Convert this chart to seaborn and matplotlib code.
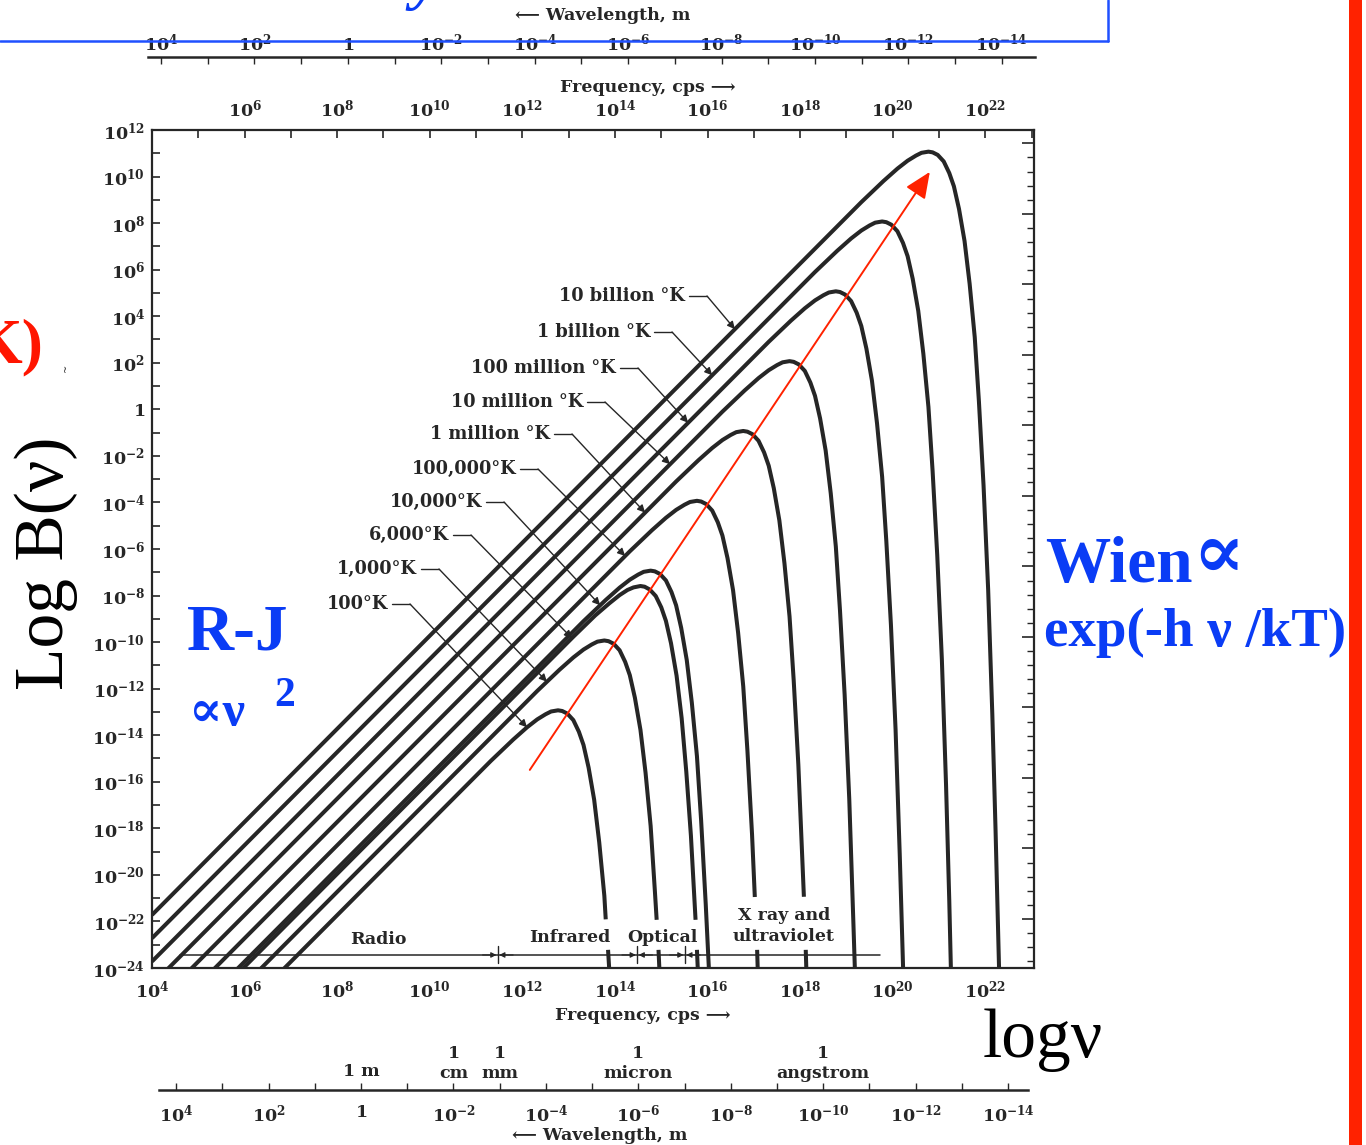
import numpy as np
import pandas as pd
import matplotlib
matplotlib.use("Agg")
import matplotlib.pyplot as plt
import matplotlib.transforms as mtrans
import seaborn as sns
from matplotlib.ticker import FixedLocator, FixedFormatter, MultipleLocator, NullLocator
from matplotlib.lines import Line2D
from matplotlib.patches import Rectangle

# ---------------- data (log10 frequency [cps], log10 B(nu)) -------------
lognu_T100 = [4.00, 11.32, 11.80, 12.10, 12.32, 12.50, 12.62, 12.77, 12.86, 12.97, 13.10, 13.22, 13.32, 13.43, 13.55, 13.66, 13.77, 13.80]
logB_T100 = [-29.72, -15.10, -14.19, -13.66, -13.32, -13.10, -12.98, -12.93, -12.96, -13.07, -13.35, -13.85, -14.42, -15.39, -16.77, -18.61, -20.90, -21.91]

lognu_T1000 = [4.00, 12.32, 12.80, 13.10, 13.32, 13.50, 13.62, 13.77, 13.86, 13.97, 14.10, 14.22, 14.32, 14.43, 14.55, 14.66, 14.77, 14.86, 14.90]
logB_T1000 = [-28.72, -12.10, -11.19, -10.66, -10.32, -10.10, -9.98, -9.93, -9.96, -10.07, -10.35, -10.85, -11.42, -12.39, -13.77, -15.61, -17.90, -20.65, -21.93]

lognu_T6000 = [4.00, 13.10, 13.57, 13.88, 14.10, 14.27, 14.40, 14.55, 14.64, 14.75, 14.88, 15.00, 15.10, 15.21, 15.33, 15.44, 15.54, 15.64, 15.74]
logB_T6000 = [-27.94, -9.77, -8.86, -8.33, -7.98, -7.76, -7.65, -7.59, -7.62, -7.74, -8.02, -8.51, -9.09, -10.05, -11.44, -13.27, -15.57, -18.32, -21.93]

lognu_T1e4 = [4.00, 13.32, 13.80, 14.10, 14.32, 14.50, 14.62, 14.77, 14.86, 14.97, 15.10, 15.22, 15.32, 15.43, 15.55, 15.66, 15.77, 15.86, 15.96, 16.04]
logB_T1e4 = [-27.72, -9.10, -8.19, -7.66, -7.32, -7.10, -6.98, -6.93, -6.96, -7.07, -7.35, -7.85, -8.42, -9.39, -10.77, -12.61, -14.90, -17.65, -21.26, -24.52]

lognu_T1e5 = [4.00, 14.32, 14.80, 15.10, 15.32, 15.50, 15.62, 15.77, 15.86, 15.97, 16.10, 16.22, 16.32, 16.43, 16.55, 16.66, 16.77, 16.86, 16.96, 17.02]
logB_T1e5 = [-26.72, -6.10, -5.19, -4.66, -4.32, -4.10, -3.98, -3.93, -3.96, -4.07, -4.35, -4.85, -5.42, -6.39, -7.77, -9.61, -11.90, -14.65, -18.26, -20.95]

lognu_T1e6 = [4.00, 15.32, 15.80, 16.10, 16.32, 16.50, 16.62, 16.77, 16.86, 16.97, 17.10, 17.22, 17.32, 17.43, 17.55, 17.66, 17.77, 17.86, 17.96, 18.08]
logB_T1e6 = [-25.72, -3.10, -2.19, -1.66, -1.32, -1.10, -0.98, -0.93, -0.96, -1.07, -1.35, -1.85, -2.42, -3.39, -4.77, -6.61, -8.90, -11.65, -15.26, -20.94]

lognu_T1e7 = [4.00, 16.32, 16.80, 17.10, 17.32, 17.50, 17.62, 17.77, 17.86, 17.97, 18.10, 18.22, 18.32, 18.43, 18.55, 18.66, 18.77, 18.86, 18.96, 19.06, 19.15, 19.19]
logB_T1e7 = [-24.72, -0.10, 0.81, 1.34, 1.68, 1.90, 2.02, 2.07, 2.04, 1.93, 1.65, 1.15, 0.58, -0.39, -1.77, -3.61, -5.90, -8.65, -12.26, -16.75, -22.12, -24.60]

lognu_T1e8 = [4.00, 17.32, 17.80, 18.10, 18.32, 18.50, 18.62, 18.77, 18.86, 18.97, 19.10, 19.22, 19.32, 19.43, 19.55, 19.66, 19.77, 19.86, 19.96, 20.06, 20.15, 20.23]
logB_T1e8 = [-23.72, 2.90, 3.81, 4.34, 4.68, 4.90, 5.02, 5.07, 5.04, 4.93, 4.65, 4.15, 3.58, 2.61, 1.23, -0.61, -2.90, -5.65, -9.26, -13.75, -19.12, -24.50]

lognu_T1e9 = [4.00, 18.32, 18.80, 19.10, 19.32, 19.50, 19.62, 19.77, 19.86, 19.97, 20.10, 20.22, 20.32, 20.43, 20.55, 20.66, 20.77, 20.86, 20.96, 21.06, 21.15, 21.22, 21.26]
logB_T1e9 = [-22.72, 5.90, 6.81, 7.34, 7.68, 7.90, 8.02, 8.07, 8.04, 7.93, 7.65, 7.15, 6.58, 5.61, 4.23, 2.39, 0.10, -2.65, -6.26, -10.75, -16.12, -21.11, -24.46]

lognu_T1e10 = [4.00, 19.32, 19.80, 20.10, 20.32, 20.50, 20.62, 20.77, 20.86, 20.97, 21.10, 21.22, 21.32, 21.43, 21.55, 21.66, 21.77, 21.86, 21.96, 22.06, 22.15, 22.22, 22.30]
logB_T1e10 = [-21.72, 8.90, 9.81, 10.34, 10.68, 10.90, 11.02, 11.07, 11.04, 10.93, 10.65, 10.15, 9.58, 8.61, 7.23, 5.39, 3.10, 0.35, -3.26, -7.75, -13.12, -18.11, -24.40]

# lower pieces of curves that are interrupted by the band labels
stub_lognu = [[13.85, 13.89], [14.94, 14.97], [15.77, 15.80], [17.07, 17.09], [18.12, 18.14]]
stub_logB = [[-23.22, -24.53], [-23.22, -24.54], [-23.22, -24.57], [-23.22, -24.52], [-23.22, -24.53]]

curve_names = ["100°K", "1,000°K", "6,000°K", "10,000°K", "100,000°K", "1 million °K",
               "10 million °K", "100 million °K", "1 billion °K", "10 billion °K"]
curve_lognu = [lognu_T100, lognu_T1000, lognu_T6000, lognu_T1e4, lognu_T1e5, lognu_T1e6,
               lognu_T1e7, lognu_T1e8, lognu_T1e9, lognu_T1e10]
curve_logB = [logB_T100, logB_T1000, logB_T6000, logB_T1e4, logB_T1e5, logB_T1e6,
              logB_T1e7, logB_T1e8, logB_T1e9, logB_T1e10]

# frequency (log10) where each label's arrow touches its curve
label_tip_lognu = [12.10, 12.53, 13.07, 13.68, 14.22, 14.65, 15.19, 15.58, 16.10, 16.59]

band_names = ["Radio", "Infrared", "Optical", "X ray and\nultraviolet"]
band_edges_lognu = [11.47, 14.48, 15.51]
band_line_lognu = [4.60, 19.72]
band_line_logB = -23.44

freq_ticks_exp = list(range(4, 24))
B_ticks_exp = list(range(-24, 13))
wl_ticks_exp = list(range(4, -15, -1))

# ---------------- style ----------------
sns.set_style("white")
plt.rcParams["font.family"] = ["DejaVu Serif", "DejaVu Sans"]
plt.rcParams["mathtext.fontset"] = "custom"
plt.rcParams["mathtext.bf"] = "DejaVu Serif:bold"
plt.rcParams["mathtext.rm"] = "DejaVu Serif:bold"

W, H = 1366, 1145
def fx(px):
    return px / W
def fy(py):
    return 1 - py / H

INK = "#262626"
BLUE = "#0a3cf5"
RED = "#ff2200"
SCAN = dict(family=["DejaVu Serif", "DejaVu Sans"], fontweight="bold", color=INK)

fig = plt.figure(figsize=(13.66, 11.45), dpi=100)
fig.patch.set_facecolor("white")

ax = fig.add_axes([fx(152), fy(968), (1034 - 152) / W, (968 - 130) / H])

rows = []
for name, ln, lb in zip(curve_names, curve_lognu, curve_logB):
    for a, b in zip(ln, lb):
        rows.append((name, 10 ** a, 10 ** b))
for i, (ln, lb) in enumerate(zip(stub_lognu, stub_logB)):
    for a, b in zip(ln, lb):
        rows.append((f"stub{i}", 10 ** a, 10 ** b))
df = pd.DataFrame(rows, columns=["curve", "nu", "B"])

ax.set_xscale("log")
ax.set_yscale("log")
sns.lineplot(data=df, x="nu", y="B", units="curve", estimator=None, sort=False,
             color=INK, linewidth=2.9, ax=ax, legend=False)
for l in ax.get_lines():
    l.set_solid_capstyle("butt")
    l.set_solid_joinstyle("round")

ax.set_xlim(1e4, 10 ** 23.05)
ax.set_ylim(1e-24, 1e12)
ax.set_xlabel("")
ax.set_ylabel("")

def plab(k):
    return r"$\mathbf{1}$" if k == 0 else r"$\mathbf{10^{%d}}$" % k

ax.xaxis.set_major_locator(FixedLocator([10.0 ** k for k in freq_ticks_exp]))
ax.xaxis.set_major_formatter(FixedFormatter([plab(k) if k % 2 == 0 and k <= 22 else "" for k in freq_ticks_exp]))
ax.yaxis.set_major_locator(FixedLocator([10.0 ** k for k in B_ticks_exp]))
ax.yaxis.set_major_formatter(FixedFormatter([plab(k) if k % 2 == 0 else "" for k in B_ticks_exp]))
ax.xaxis.set_minor_locator(NullLocator())
ax.yaxis.set_minor_locator(NullLocator())
ax.tick_params(axis="both", which="major", direction="in", length=6, width=1.2,
               top=True, right=False, labelsize=12.5, colors=INK)
ax.tick_params(axis="x", pad=8)
ax.tick_params(axis="y", pad=5)
for s in ax.spines.values():
    s.set_linewidth(1.6)
    s.set_color(INK)

# top frequency labels
secx = ax.secondary_xaxis("top")
secx.xaxis.set_major_locator(FixedLocator([10.0 ** k for k in range(6, 23, 2)]))
secx.xaxis.set_major_formatter(FixedFormatter([plab(k) for k in range(6, 23, 2)]))
secx.xaxis.set_minor_locator(NullLocator())
secx.tick_params(length=0, pad=7, labelsize=12.5, colors=INK)
secx.spines["top"].set_visible(False)

# right-hand tick scale
ax2 = ax.twinx()
ax2.set_ylim(1.52, 60.95)
ax2.yaxis.set_major_locator(MultipleLocator(5))
ax2.yaxis.set_minor_locator(MultipleLocator(1))
ax2.tick_params(axis="y", which="major", direction="in", length=9, width=1.2, labelright=False, colors=INK)
ax2.tick_params(axis="y", which="minor", direction="in", length=5, width=1.0, colors=INK)
for s in ax2.spines.values():
    s.set_visible(False)

# band line and markers
ax.plot([10 ** band_line_lognu[0], 10 ** band_line_lognu[1]], [10 ** band_line_logB] * 2,
        color=INK, lw=1.1)
for e in band_edges_lognu:
    ax.plot([10 ** e, 10 ** e], [10 ** (band_line_logB - 0.35), 10 ** (band_line_logB + 0.4)], color=INK, lw=1.0)
    for side in (-11, 11):
        ax.annotate("", xy=(10 ** e, 10 ** band_line_logB), xytext=(side, 0), textcoords="offset points",
                    arrowprops=dict(arrowstyle="-|>", color=INK, lw=0.8, mutation_scale=8,
                                    shrinkA=0, shrinkB=1))

band_pos = [(378, 940), (570, 937), (662, 937), (784, 926)]
for name, (px, py) in zip(band_names, band_pos):
    fig.text(fx(px), fy(py), name, ha="center", va="center", fontsize=12.5, linespacing=1.25, **SCAN)

# temperature labels with leaders
label_end = [(388, 604), (417, 569), (449, 535), (482, 502), (516, 469), (550, 434),
             (583, 402), (616, 368), (650, 332), (685, 296)]
for name, ln, lb, tip, (ex, ey) in zip(curve_names, curve_lognu, curve_logB, label_tip_lognu, label_end):
    fig.text(fx(ex), fy(ey), name, ha="right", va="center", fontsize=12.8, **SCAN)
    elbow = (fx(ex + 22), fy(ey))
    fig.add_artist(Line2D([fx(ex + 4), elbow[0]], [fy(ey), fy(ey)], transform=fig.transFigure,
                          color=INK, lw=1.0))
    tipB = np.interp(tip, ln, lb)
    ax.annotate("", xy=(10 ** tip, 10 ** tipB), xycoords="data", xytext=elbow,
                textcoords="figure fraction",
                arrowprops=dict(arrowstyle="-|>", color=INK, lw=1.0, mutation_scale=11,
                                shrinkA=0, shrinkB=0))

# red diagonal arrow (Wien displacement)
ax.annotate("", xy=(10 ** 20.80, 10 ** 10.20), xytext=(10 ** 12.16, 10 ** -15.49),
            arrowprops=dict(arrowstyle="-|>,head_length=0.8,head_width=0.35", color=RED, lw=1.4,
                            mutation_scale=20, shrinkA=0, shrinkB=0))

# ---------------- wavelength scales ----------------
def wl_axis(rect, xl, ticks_down):
    a = fig.add_axes(rect)
    a.patch.set_visible(False)
    a.set_xscale("log")
    a.set_xlim(*xl)
    a.set_yticks([])
    for k in ("top", "left", "right"):
        a.spines[k].set_visible(False)
    a.spines["bottom"].set_linewidth(1.8)
    a.spines["bottom"].set_color(INK)
    a.xaxis.set_major_locator(FixedLocator([10.0 ** k for k in wl_ticks_exp]))
    a.xaxis.set_major_formatter(FixedFormatter([plab(k) if k % 2 == 0 else "" for k in wl_ticks_exp]))
    a.xaxis.set_minor_locator(NullLocator())
    if ticks_down:
        a.tick_params(axis="x", bottom=True, top=False, labelbottom=False, labeltop=True,
                      direction="out", length=5, width=1.0, labelsize=12.5, colors=INK, pad=-3)
    else:
        a.tick_params(axis="x", bottom=True, top=False, labelbottom=True, labeltop=False,
                      direction="in", length=5, width=1.0, labelsize=12.5, colors=INK, pad=10)
    return a

wl_top = wl_axis([fx(148), fy(57), (1035 - 148) / W, 0.0001], (10 ** 4.28, 10 ** -14.71), True)
wl_bot = wl_axis([fx(159), fy(1090), (1028 - 159) / W, 0.0001], (10 ** 4.37, 10 ** -14.43), False)

btr = mtrans.blended_transform_factory(wl_bot.transData, fig.transFigure)
fig.text(1.0, fy(1071), "1 m", transform=btr, ha="center", va="center", fontsize=12.5, **SCAN)
for lam, unit in [(1e-2, "cm"), (1e-3, "mm"), (1e-6, "micron"), (1e-10, "angstrom")]:
    fig.text(lam, fy(1054), "1", transform=btr, ha="center", va="center", fontsize=12.5, **SCAN)
    fig.text(lam, fy(1073), unit, transform=btr, ha="center", va="center", fontsize=12.5, **SCAN)

fig.text(fx(603), fy(16), "⟵ Wavelength, m", ha="center", va="center", fontsize=12.5, **SCAN)
fig.text(fx(648), fy(87), "Frequency, cps ⟶", ha="center", va="center", fontsize=12.5, **SCAN)
fig.text(fx(643), fy(1016), "Frequency, cps ⟶", ha="center", va="center", fontsize=12.5, **SCAN)
fig.text(fx(600), fy(1135), "⟵ Wavelength, m", ha="center", va="center", fontsize=12.5, **SCAN)

# ---------------- slide overlay text ----------------
TIMES = ["Liberation Serif", "DejaVu Serif"]
fig.text(fx(46), fy(563), "Log B(ν)", rotation=90, ha="center", va="center", fontsize=50,
         family=TIMES, color="black")
fig.text(fx(1043), fy(1040), "logν", ha="center", va="center", fontsize=50, family=TIMES, color="black")
fig.text(fx(44), fy(347), "K)", ha="right", va="center", fontsize=46, fontweight="bold",
         family=TIMES, color="#ff1500")
fig.text(fx(66), fy(368), "~", ha="center", va="center", fontsize=7, rotation=90, color=INK)

fig.text(fx(187), fy(649), "R-J", ha="left", va="baseline", fontsize=47, fontweight="bold",
         family=TIMES, color=BLUE)
fig.text(fx(189), fy(726), "∝ν", ha="left", va="baseline", fontsize=36, fontweight="bold",
         family=TIMES, color=BLUE)
fig.text(fx(274), fy(706), "2", ha="left", va="baseline", fontsize=30, fontweight="bold",
         family=TIMES, color=BLUE)
fig.text(fx(1045), fy(582), "Wien", ha="left", va="baseline", fontsize=47, fontweight="bold",
         family=TIMES, color=BLUE)
fig.text(fx(1192), fy(578), "∝", ha="left", va="baseline", fontsize=56, fontweight="bold",
         family=["DejaVu Serif"], color=BLUE)
fig.text(fx(1044), fy(646), "exp(-h ν /kT)", ha="left", va="baseline", fontsize=39.5, fontweight="bold",
         family=TIMES, color=BLUE)
fig.text(fx(426), fy(-3), "y", ha="center", va="baseline", fontsize=46, fontweight="bold",
         style="italic", family=TIMES, color=BLUE)

# slide frame pieces
fig.add_artist(Line2D([0, fx(1108)], [fy(41), fy(41)], transform=fig.transFigure, color="#1f50ff",
                      lw=1.8, zorder=10))
fig.add_artist(Line2D([fx(1108), fx(1108)], [fy(41), 1], transform=fig.transFigure, color="#1f50ff",
                      lw=1.8, zorder=10))
fig.add_artist(Rectangle((fx(1349), 0), (1362 - 1349) / W, 1, transform=fig.transFigure,
                         facecolor=RED, edgecolor="none", zorder=10))

fig.savefig("out.png", dpi=100, facecolor="white")
